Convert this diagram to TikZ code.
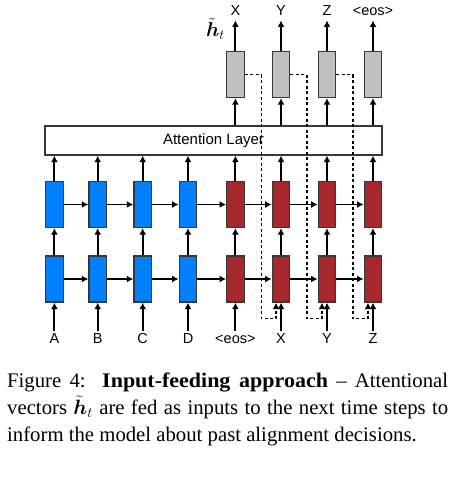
\RequirePackage{fix-cm}
\documentclass[tikz,border=0pt]{standalone}
\usepackage{amsmath}
\usepackage{bm}
\usepackage{fontspec}
\setmainfont{Liberation Serif}
\newfontfamily\lblfont{Liberation Sans}
\usetikzlibrary{positioning,arrows.meta}

\definecolor{encblue}{RGB}{0,128,255}
\definecolor{decred}{RGB}{166,40,44}
\definecolor{attgray}{RGB}{192,192,192}
\definecolor{boxline}{RGB}{55,55,55}

\tikzset{
    cell/.style={draw=boxline, line width=1.3pt, minimum width=17.5pt, minimum height=46pt, inner sep=0pt},
    enc/.style={cell, fill=encblue},
    dec/.style={cell, fill=decred},
    attn/.style={cell, fill=attgray},
    lbl/.style={font=\lblfont\fontsize{14.5}{14.5}\selectfont, text height=10.5pt, text depth=0pt, inner sep=2pt},
    conn/.style={line width=1.9pt, -{Latex[length=6.5pt,width=7pt]}},
    feed/.style={conn, line width=1.5pt, dash pattern=on 3pt off 2.5pt},
    capline/.style={font=\fontsize{20.74}{27}\selectfont, inner sep=0pt, anchor=base west}
}

\begin{document}
\begin{tikzpicture}[x=1pt, y=-1pt]
    \useasboundingbox (0,0) rectangle (458,479);

    \node[draw=boxline, line width=1.3pt, minimum width=337pt, minimum height=29pt, inner sep=0pt,
        font=\lblfont\fontsize{15}{15}\selectfont] (att) at (213.5,140.5) {Attention Layer};

    % source side
    \foreach \x/\t [count=\i] in {54.4/A, 97.7/B, 142.7/C, 188/D} {
        \node[enc] (lo\i) at (\x,279) {};
        \node[enc] (hi\i) at (\x,204.5) {};
        \node[lbl] (in\i) at (\x,338.5) {\t};
    }
    % target side
    \foreach \x/\t/\o [count=\i from 5] in {235.4/<eos>/X, 281/X/Y, 327/Y/Z, 373/Z/<eos>} {
        \node[dec] (lo\i) at (\x,279) {};
        \node[dec] (hi\i) at (\x,204.5) {};
        \node[attn] (ht\i) at (\x,74.5) {};
        \node[lbl] (in\i) at (\x,338.5) {\t};
        \node[lbl] (out\i) at (\x,10) {\o};
        \draw[conn] (ht\i |- att.north) -- (ht\i);
        \draw[conn, shorten >=3pt] (ht\i) -- (out\i);
    }

    \foreach \i in {1,...,8} {
        \draw[conn] (in\i) -- (lo\i);
        \draw[conn] (lo\i) -- (hi\i);
        \draw[conn] (hi\i) -- (hi\i |- att.south);
    }
    \foreach \i [evaluate=\i as \j using int(\i+1)] in {1,...,7} {
        \draw[conn] (lo\i) -- (lo\j);
        \draw[conn] (hi\i) -- (hi\j);
    }

    % input feeding
    \foreach \i [evaluate=\i as \j using int(\i+1)] in {5,6,7} {
        \draw[feed] (ht\i.east) -- ++(16.5,0) |- ([xshift=-5pt,yshift=-16pt]lo\j.south) -- ([xshift=-5pt]lo\j.south);
    }

    \node[font=\fontsize{20}{20}\selectfont, inner sep=1pt] (htl) at (215.5,29) {$\bm{\tilde{h}}_t$};

    \node[capline] (cap1) at (7,387) {\makebox[441pt][s]{Figure 4:\ \ \textbf{\addfontfeature{FakeStretch=1.06}Input-feeding approach} – Attentional}};
    \node[capline] (cap2) at (7,414.5) {\makebox[441pt][s]{vectors $\bm{\tilde{h}}_t$ are fed as inputs to the next time steps to}};
    \node[capline] (cap3) at (7,441.5) {inform the model about past alignment decisions.};
\end{tikzpicture}
\end{document}
